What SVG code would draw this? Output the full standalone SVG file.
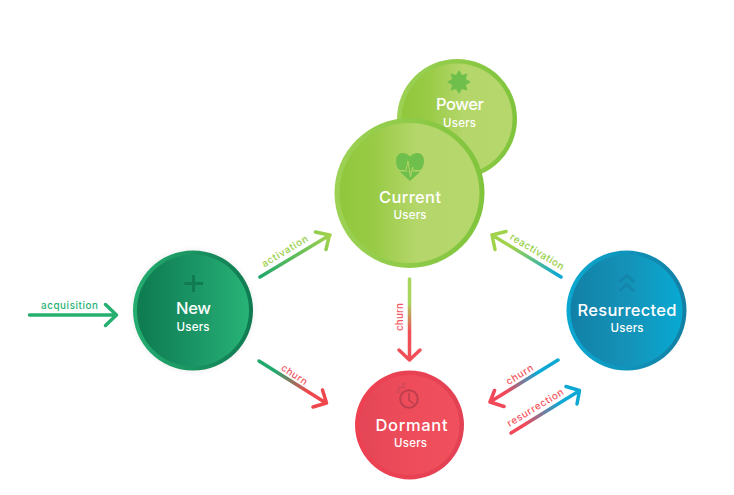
<svg xmlns="http://www.w3.org/2000/svg" width="734" height="495" viewBox="0 0 734 495">
<style>
text{font-family:"Inter","Liberation Sans",sans-serif;text-anchor:middle}
.t{fill:#fff;font-size:16.5px;font-weight:450}
.u{fill:#fff;font-size:11.5px;font-weight:450}
.l{font-size:9.8px;font-weight:500}
.a{fill:none;stroke-width:3.5;stroke-linecap:round;stroke-linejoin:round}
.red{fill:#f4555f}.grn{fill:#25b072}.lime{fill:#97cf48}
</style>
<defs>
<linearGradient id="rG" x1="0" x2="1" y1="0" y2="0"><stop offset="0" stop-color="#9dd154"/><stop offset="1" stop-color="#80c43c"/></linearGradient>
<linearGradient id="iG" x1="0" x2="1" y1="0" y2="0"><stop offset="0" stop-color="#90c73c"/><stop offset="0.25" stop-color="#99cb46"/><stop offset="0.55" stop-color="#b4d66a"/><stop offset="1" stop-color="#b6d76c"/></linearGradient>
<linearGradient id="rN" x1="0" x2="1" y1="0" y2="0"><stop offset="0" stop-color="#24ad70"/><stop offset="1" stop-color="#0f7a51"/></linearGradient>
<linearGradient id="iN" x1="0" x2="1" y1="0" y2="0"><stop offset="0" stop-color="#0e7a50"/><stop offset="0.5" stop-color="#1a9465"/><stop offset="1" stop-color="#27b376"/></linearGradient>
<linearGradient id="rR" x1="0" x2="1" y1="0" y2="0"><stop offset="0" stop-color="#0ba8d1"/><stop offset="1" stop-color="#137fa4"/></linearGradient>
<linearGradient id="iR" x1="0" x2="1" y1="0" y2="0"><stop offset="0" stop-color="#1280a6"/><stop offset="0.5" stop-color="#1592b8"/><stop offset="1" stop-color="#08a9d2"/></linearGradient>
<linearGradient id="rD" x1="0" x2="1" y1="0" y2="0"><stop offset="0" stop-color="#ee4152"/><stop offset="1" stop-color="#e24254"/></linearGradient>
<linearGradient id="iD" x1="0" x2="1" y1="0" y2="0"><stop offset="0" stop-color="#e44657"/><stop offset="0.5" stop-color="#ee4c5a"/><stop offset="1" stop-color="#f0505d"/></linearGradient>
<linearGradient id="g1" gradientUnits="userSpaceOnUse" x1="259" y1="277" x2="331" y2="234"><stop offset="0" stop-color="#1fa76c"/><stop offset="1" stop-color="#a4d34a"/></linearGradient>
<linearGradient id="g2" gradientUnits="userSpaceOnUse" x1="258" y1="360" x2="327" y2="403"><stop offset="0.25" stop-color="#22a96d"/><stop offset="0.72" stop-color="#f0474f"/></linearGradient>
<linearGradient id="g3" gradientUnits="userSpaceOnUse" x1="409" y1="278" x2="409" y2="360"><stop offset="0.3" stop-color="#a9d65c"/><stop offset="0.65" stop-color="#f04f58"/></linearGradient>
<linearGradient id="g4" gradientUnits="userSpaceOnUse" x1="558" y1="360" x2="489" y2="402"><stop offset="0.3" stop-color="#0ea8d4"/><stop offset="0.75" stop-color="#f2485a"/></linearGradient>
<linearGradient id="g5" gradientUnits="userSpaceOnUse" x1="511" y1="433" x2="580" y2="390"><stop offset="0.2" stop-color="#f2485a"/><stop offset="0.7" stop-color="#0ea8d4"/></linearGradient>
<linearGradient id="g6" gradientUnits="userSpaceOnUse" x1="561" y1="277" x2="491" y2="234"><stop offset="0.05" stop-color="#0ea8d4"/><stop offset="0.7" stop-color="#a0d24c"/></linearGradient>
<filter id="sh" x="-20%" y="-20%" width="140%" height="140%"><feGaussianBlur stdDeviation="3"/></filter>
</defs>
<g id="connectors">
<path class="a" stroke="#25b072" d="M29.500 315H116M105.500 304.500L116.500 315L105.500 325.500"/>
<path class="a" stroke="url(#g1)" d="M260 277L330 235M315.500 232L329.500 235L326 249.500"/>
<path class="a" stroke="url(#g2)" d="M259 361L326 403M322.500 390L326.500 403L313 407"/>
<path class="a" stroke="url(#g3)" d="M409.500 279V359M399 350L409.500 360L420 350"/>
<path class="a" stroke="url(#g4)" d="M558 360L490 402M494.500 390.500L490 402L504 406.500"/>
<path class="a" stroke="url(#g5)" d="M511 433L579 391M566 386.500L579.500 390.500L577 404"/>
<path class="a" stroke="url(#g6)" d="M561 277L492 235M506 231.500L492 235L495 249.500"/>
<text class="l grn" x="69.500" y="309" textLength="57">acquisition</text>
<text class="l lime" transform="translate(286.500 254) rotate(-31)" textLength="52">activation</text>
<text class="l red" transform="translate(292.600 377.500) rotate(33)" textLength="29">churn</text>
<text class="l red" transform="translate(403 317) rotate(-90)" textLength="28">churn</text>
<text class="l red" transform="translate(521.300 377.500) rotate(-31)" textLength="30">churn</text>
<text class="l red" transform="translate(537 410.500) rotate(-31)" textLength="64">resurrection</text>
<text class="l lime" transform="translate(535.400 254.500) rotate(31)" textLength="61">reactivation</text>
</g>
<g id="power">
<circle cx="457" cy="119" r="60" fill="url(#rG)"/><circle cx="457" cy="119" r="55.500" fill="url(#iG)"/>
<path transform="translate(459 82)" fill="#6fbf4c" d="M0-12L2.900-6.900L8.500-8.500L6.900-2.900L12 0L6.900 2.900L8.500 8.500L2.900 6.900L0 12L-2.900 6.900L-8.500 8.500L-6.900 2.900L-12 0L-6.900-2.900L-8.500-8.500L-2.900-6.900Z"/>
<text class="t" x="460" y="110" textLength="48">Power</text>
<text class="u" x="459.500" y="127" textLength="33">Users</text>
</g>
<g id="current">
<circle cx="409.500" cy="193" r="75" fill="url(#rG)"/><circle cx="409.500" cy="193" r="70" fill="url(#iG)"/>
<path fill="#6fbf4c" d="M410 156.500C408 154 405 153 402.500 153C398 153 396 157 396 161C396 165 397.500 168 400 171H420C422.500 168 424 165 424 161C424 157 422 153 417.500 153C415 153 412 154 410 156.500ZM399.500 171.500L410 181L420.500 171.500Z"/>
<path fill="none" stroke="#b0d565" stroke-width="1" d="M397 170.500H406L408 161L410.500 177L412.500 167L413.500 170.500H423"/>
<text class="t" x="410" y="203" textLength="62">Current</text>
<text class="u" x="410" y="219" textLength="33">Users</text>
</g>
<g id="new">
<circle cx="193" cy="310.500" r="60.500" fill="#000" opacity=".07" filter="url(#sh)"/>
<circle cx="193" cy="310.500" r="60" fill="url(#rN)"/><circle cx="193" cy="310.500" r="56" fill="url(#iN)"/>
<path fill="none" stroke="#107a51" stroke-width="3" d="M193.500 275V292M184.500 283.500H203"/>
<text class="t" x="193.500" y="313.500" textLength="35">New</text>
<text class="u" x="193" y="331" textLength="33">Users</text>
</g>
<g id="dormant">
<circle cx="409.500" cy="425" r="54.500" fill="url(#rD)"/><circle cx="409.500" cy="425" r="50" fill="url(#iD)"/>
<circle cx="409" cy="399" r="8.800" fill="none" stroke="#bf3f4e" stroke-width="2"/>
<path fill="none" stroke="#bf3f4e" stroke-width="1.600" d="M409 393V400L414 404"/>
<path fill="none" stroke="#d24a5a" stroke-width="1.300" d="M397 387.500H400.500L397 392H401M402 384H405L402 387.500H405.500"/>
<text class="t" x="411.500" y="431" textLength="72">Dormant</text>
<text class="u" x="410.500" y="447" textLength="33">Users</text>
</g>
<g id="resurrected">
<circle cx="626.500" cy="310.500" r="60" fill="url(#rR)"/><circle cx="626.500" cy="310.500" r="56" fill="url(#iR)"/>
<path fill="none" stroke="#1486ab" stroke-width="3" d="M619.500 282L626.800 275.500L634 282M619.500 291L626.800 284.500L634 291"/>
<text class="t" x="627" y="316" textLength="99">Resurrected</text>
<text class="u" x="627" y="332" textLength="33">Users</text>
</g>
</svg>
